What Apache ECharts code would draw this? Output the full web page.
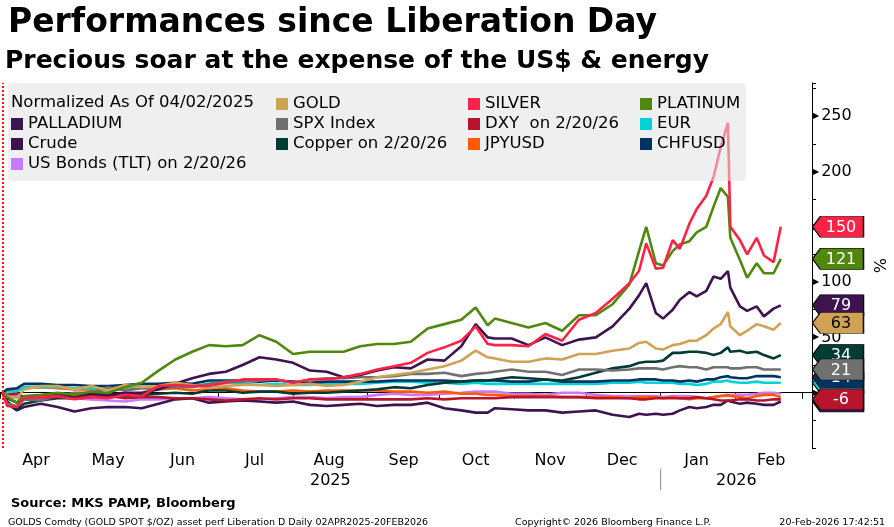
<!DOCTYPE html>
<html>
<head>
<meta charset="utf-8">
<title>Performances since Liberation Day</title>
<script src="https://cdn.jsdelivr.net/npm/echarts@6/dist/echarts.min.js"></script>
<style>
  html, body { margin: 0; padding: 0; background: #fff; }
  #chart { width: 894px; height: 527px; }
</style>
</head>
<body>
<div id="chart"></div>
<script>
// sample dates (weekly, denser in the volatile Dec-Feb stretch)
const dates = [
  '2025-04-02','2025-04-04','2025-04-08','2025-04-11','2025-04-18','2025-04-25',
  '2025-05-02','2025-05-09','2025-05-16','2025-05-23','2025-05-30',
  '2025-06-06','2025-06-13','2025-06-20','2025-06-27',
  '2025-07-04','2025-07-11','2025-07-18','2025-07-25',
  '2025-08-01','2025-08-08','2025-08-15','2025-08-22','2025-08-29',
  '2025-09-05','2025-09-12','2025-09-19','2025-09-26',
  '2025-10-03','2025-10-10','2025-10-16','2025-10-21','2025-10-24','2025-10-31',
  '2025-11-07','2025-11-14','2025-11-21','2025-11-28',
  '2025-12-05','2025-12-12','2025-12-19','2025-12-23','2025-12-26','2025-12-30',
  '2026-01-02','2026-01-06','2026-01-09','2026-01-13','2026-01-16','2026-01-20','2026-01-23','2026-01-26','2026-01-29','2026-01-30',
  '2026-02-03','2026-02-06','2026-02-10','2026-02-13','2026-02-17','2026-02-20'
];

// % change since 04/02/2025
const gold = [0,-3,-5,3,6,6, 3,6,2,7,5, 6,9,7,4, 6,7,7,6, 7,8,6,7,10, 14,16,18,21,
  24,29,38,32,31,28, 28,31,30,35, 35,38,40,45,46,40, 39,43,44,47,47,52,58,62,73,60, 52,56,62,60,57,63];
const silver = [0,-12,-13,-5,-4,-3, -6,-4,-5,-2,-3, 6,7,6,6, 9,12,12,12, 9,12,12,14,17, 21,24,27,36,
  41,47,60,44,43,43, 42,53,47,66, 72,85,99,110,135,112, 113,138,130,153,166,178,195,222,244,150, 138,125,140,124,118,150];
const platinum = [0,-4,-9,-3,-2,0, -2,1,0,5,9, 20,30,37,43, 42,43,52,46, 35,37,37,37,42, 44,44,46,58,
  62,66,77,61,67,63, 59,63,56,70, 70,80,98,128,150,117, 115,128,134,137,145,150,168,185,177,140, 120,104,117,108,108,121];
const palladium = [0,-5,-9,-4,-3,-2, -3,-1,-2,0,0, 3,8,13,17, 19,25,32,30, 27,20,19,14,16, 20,23,22,30,
  29,42,62,50,49,49, 43,50,43,48, 50,60,76,88,99,72, 67,75,84,91,87,92,105,103,110,95, 78,74,78,69,76,79];
const spx = [0,-10,-12,-6,-7,-3, 0,0,5,2,4, 5,5,5,8, 10,10,11,12, 9,12,13,13,14, 14,15,17,17,
  18,15,17,18,19,21, 19,19,16,21, 21,20,21,22,22,22, 21,23,24,23,23,21,23,23,23,22, 22,23,23,21,21,21];
const dxy = [0,-2,-1,-4,-4,-4, -4,-3,-3,-5,-4, -4,-5,-5,-6, -7,-6,-5,-6, -5,-5,-6,-6,-6, -6,-6,-6,-5,
  -6,-5,-5,-5,-5,-4, -4,-4,-4,-4, -5,-5,-5,-6,-6,-5, -5,-5,-5,-5,-4,-5,-6,-7,-7,-7, -6,-6,-7,-7,-6,-6];
const eur = [0,1,1,5,5,5, 4,4,3,5,5, 5,6,6,8, 9,8,7,8, 7,7,8,8,8, 9,10,10,9,
  9,8,9,8,8,8, 8,8,8,8, 8,9,9,10,9,9, 9,9,8,8,7,8,10,10,11,10, 9,9,10,9,9,9];
const crude = [0,-10,-16,-13,-10,-13, -17,-14,-13,-13,-14, -10,-6,-5,-9, -8,-7,-8,-9, -8,-11,-12,-11,-10, -12,-11,-11,-9,
  -14,-16,-18,-18,-14,-15, -16,-16,-18,-17, -16,-20,-22,-19,-20,-19, -20,-19,-16,-13,-14,-13,-11,-11,-7,-8, -10,-9,-10,-11,-11,-8];
const copper = [0,-8,-15,-10,-7,-5, -5,-4,-3,-3,-2, -1,0,-1,2, 2,0,1,1, -1,0,0,1,2, 3,5,4,7,
  9,10,11,11,12,14, 13,12,11,14, 18,22,24,27,28,28, 29,36,36,37,37,36,34,36,41,37, 38,36,37,34,31,34];
const jpyusd = [0,2,2,4,5,4, 3,3,3,5,4, 3,4,2,3, 4,2,1,1, 2,1,2,2,2, 2,1,1,0,
  1,-1,-1,-2,-2,-3, -3,-3,-4,-4, -4,-4,-5,-4,-4,-4, -5,-4,-5,-6,-5,-5,-4,-3,-2,-3, -4,-5,-3,-2,-2,-4];
const chfusd = [0,3,4,8,8,7, 7,6,6,7,8, 8,9,8,11, 11,11,10,11, 10,9,10,10,10, 10,11,11,11,
  11,10,11,11,11,10, 10,12,10,10, 10,11,11,12,12,12, 11,11,10,11,10,12,12,14,15,14, 13,13,15,15,15,14];
const tlt = [0,1,-4,-6,-5,-4, -5,-6,-7,-8,-6, -6,-5,-5,-4, -5,-6,-6,-5, -4,-4,-5,-4,-4, -2,-1,-2,-2,
  -1,0,1,1,1,-1, -1,-2,0,0, -2,-3,-3,-3,-3,-3, -4,-3,-3,-3,-4,-5,-4,-3,-3,-2, -2,-2,-1,0,0,-1];

const monthNames = ['Jan','Feb','Mar','Apr','May','Jun','Jul','Aug','Sep','Oct','Nov','Dec'];
const xMin = '2025-04-01';
const xMax = '2026-03-05';
const FONT = "'DejaVu Sans', Verdana, sans-serif";

// name, values, colour, tag?, tag text colour  (later entries drawn on top)
const defs = [
  ['US Bonds (TLT) on 2/20/26', tlt, '#c879ff', false],
  ['JPYUSD', jpyusd, '#ff5a00', false],
  ['Crude', crude, '#3e1450', true, '#fff'],
  ['EUR', eur, '#00d2d6', true, '#000'],
  ['CHFUSD', chfusd, '#003263', true, '#fff'],
  ['Copper on 2/20/26', copper, '#003b35', true, '#fff'],
  ['SPX Index', spx, '#707070', true, '#fff'],
  ['DXY  on 2/20/26', dxy, '#b8142c', true, '#fff'],
  ['PALLADIUM', palladium, '#3e1450', true, '#fff'],
  ['GOLD', gold, '#d0a254', true, '#000'],
  ['PLATINUM', platinum, '#4f880c', true, '#fff'],
  ['SILVER', silver, '#ff2247', true, '#fff']
];

const tagPath = 'path://M0,10 L8,0 L52,0 L52,20 L8,20 Z';

const series = defs.map(function (d, i) {
  const vals = d[1];
  const last = vals[vals.length - 1];
  const s = {
    name: d[0],
    type: 'line',
    data: dates.map(function (t, k) { return [t, vals[k]]; }),
    showSymbol: false,
    symbol: 'none',
    silent: true,
    animation: false,
    lineStyle: { color: d[2], width: 2.6 },
    itemStyle: { color: d[2] },
    emphasis: { disabled: true }
  };
  if (d[3]) {
    s.markPoint = {
      silent: true,
      animation: false,
      z: 10 + i,
      symbol: tagPath,
      symbolSize: [51, 21],
      symbolKeepAspect: false,
      symbolOffset: [26, 0],
      itemStyle: { color: d[2], borderColor: '#111', borderWidth: 1 },
      label: {
        show: true, position: 'inside', color: d[4], fontSize: 16,
        fontFamily: FONT, offset: [3, 1],
        formatter: function (p) { return String(p.value); }
      },
      data: [{ coord: [xMax, last], value: last }]
    };
  }
  if (i === 0) {
    s.markLine = {
      silent: true, animation: false, symbol: 'none',
      label: { show: false },
      lineStyle: { color: '#ff1010', type: [2, 2], width: 2 },
      data: [{ xAxis: dates[0] }]
    };
  }
  return s;
});

function legendCol(data, left, top) {
  return {
    data: data, orient: 'vertical', left: left, top: top,
    icon: 'rect', itemWidth: 12, itemHeight: 12, itemGap: 0,
    selectedMode: false, z: 20, padding: 0,
    textStyle: { color: '#000', fontSize: 16.5, fontFamily: FONT, lineHeight: 20 }
  };
}

const chart = echarts.init(document.getElementById('chart'), null, { renderer: 'canvas' });

const option = {
  animation: false,
  backgroundColor: '#fff',
  title: [
    { text: 'Performances since Liberation Day', left: 3, top: 2,
      textStyle: { fontFamily: FONT, fontWeight: 'bold', fontSize: 33, color: '#000' } },
    { text: 'Precious soar at the expense of the US$ & energy', left: 0, top: 44,
      textStyle: { fontFamily: FONT, fontWeight: 'bold', fontSize: 25, color: '#000' } },
    { text: 'Source: MKS PAMP, Bloomberg', left: 6, top: 492,
      textStyle: { fontFamily: FONT, fontWeight: 'bold', fontSize: 13, color: '#000' } },
    { text: 'GOLDS Comdty (GOLD SPOT $/OZ) asset perf Liberation D Daily 02APR2025-20FEB2026', left: 3, top: 513,
      textStyle: { fontFamily: FONT, fontWeight: 'normal', fontSize: 9.5, color: '#000' } },
    { text: 'Copyright\u00a9 2026 Bloomberg Finance L.P.', left: 510, top: 513,
      textStyle: { fontFamily: FONT, fontWeight: 'normal', fontSize: 9.5, color: '#000' } },
    { text: '20-Feb-2026 17:42:51', right: 4, top: 513,
      textStyle: { fontFamily: FONT, fontWeight: 'normal', fontSize: 9.5, color: '#000' } }
  ],
  legend: [
    legendCol(['PALLADIUM', 'Crude', 'US Bonds (TLT) on 2/20/26'], 11, 114),
    legendCol(['GOLD', 'SPX Index', 'Copper on 2/20/26'], 276, 94),
    legendCol(['SILVER', 'DXY  on 2/20/26', 'JPYUSD'], 468, 94),
    legendCol(['PLATINUM', 'EUR', 'CHFUSD'], 640, 94)
  ],
  grid: { left: 0, right: 76, top: 83, bottom: 79, containLabel: false },
  xAxis: {
    type: 'time',
    min: xMin,
    max: xMax,
    splitNumber: 12,
    minInterval: 28 * 86400000,
    maxInterval: 31 * 86400000,
    axisLine: { show: true, lineStyle: { color: '#000', width: 1 } },
    axisTick: { show: true, length: 6, lineStyle: { color: '#000' } },
    splitLine: { show: false },
    axisLabel: {
      margin: 5,
      align: 'left',
      formatter: function (val) {
        const d = new Date(val);
        if (d.getFullYear() === 2026 && d.getMonth() >= 2) return '';
        return '{m|' + monthNames[d.getMonth()] + '}';
      },
      rich: { m: { width: 72, align: 'center', fontSize: 16, fontFamily: FONT, color: '#000' } }
    }
  },
  yAxis: {
    type: 'value',
    position: 'right',
    min: -50,
    max: 280,
    interval: 25,
    name: '%',
    nameLocation: 'middle',
    nameGap: 58,
    nameRotate: -90,
    nameTextStyle: { fontFamily: FONT, fontSize: 16, color: '#000' },
    axisLine: { show: true, lineStyle: { color: '#000', width: 1 } },
    axisTick: { show: true, length: 4, lineStyle: { color: '#000' } },
    splitLine: { show: false },
    axisLabel: {
      margin: 1,
      formatter: function (v) {
        if (v % 50 !== 0 || v <= -50 || v > 260) return '';
        return '{t|\u25B6}{v|' + v + '}';
      },
      rich: {
        t: { fontSize: 8, color: '#000', fontFamily: FONT, padding: [0, 2, 0, 0] },
        v: { fontSize: 16, color: '#000', fontFamily: FONT }
      }
    }
  },
  graphic: [
    { id: 'legendBox', type: 'rect', z: 10, silent: true,
      shape: { x: 8, y: 83, width: 738, height: 98, r: 3 },
      style: { fill: 'rgba(226,226,226,0.55)' } },
    { id: 'legendHead', type: 'text', z: 20, silent: true,
      style: { text: 'Normalized As Of 04/02/2025', x: 11, y: 103, verticalAlign: 'middle',
               font: '16.5px ' + FONT, fill: '#000' } }
  ],
  series: series
};

chart.setOption(option);

// year labels under the month axis, placed from the axis scale
const pxStart = chart.convertToPixel({ xAxisIndex: 0 }, new Date(2025, 3, 1).getTime());
const pxJan = chart.convertToPixel({ xAxisIndex: 0 }, new Date(2026, 0, 1).getTime());
const pxEnd = chart.convertToPixel({ xAxisIndex: 0 }, new Date(2026, 2, 5).getTime());
chart.setOption({
  graphic: [
    { id: 'y2025', type: 'text', silent: true,
      style: { text: '2025', x: (pxStart + pxJan) / 2, y: 481, align: 'center', verticalAlign: 'middle',
               font: '16px ' + FONT, fill: '#000' } },
    { id: 'y2026', type: 'text', silent: true,
      style: { text: '2026', x: (pxJan + pxEnd) / 2, y: 481, align: 'center', verticalAlign: 'middle',
               font: '16px ' + FONT, fill: '#000' } },
    { id: 'ysep', type: 'line', silent: true,
      shape: { x1: pxJan, y1: 469, x2: pxJan, y2: 490 },
      style: { stroke: '#8a8a8a', lineWidth: 1 } }
  ]
});
</script>
</body>
</html>
